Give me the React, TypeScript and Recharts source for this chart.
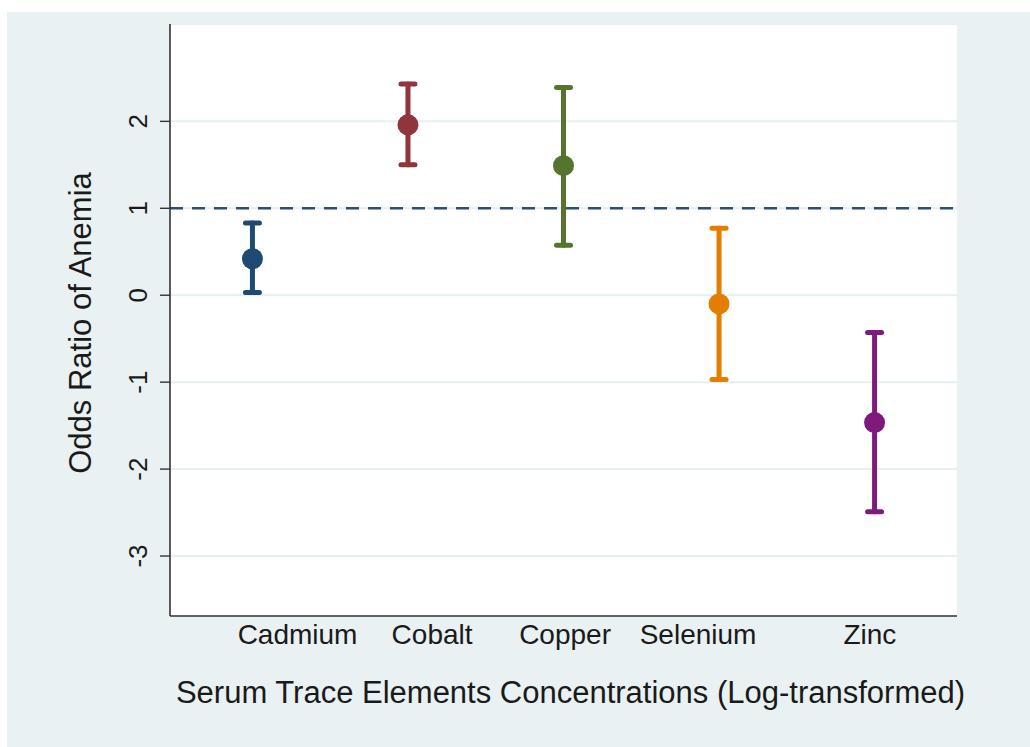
import React from "react";
import {
  ScatterChart,
  Scatter,
  XAxis,
  YAxis,
  CartesianGrid,
  ReferenceLine,
  ErrorBar,
  Label,
} from "recharts";

// ---- data ----
const elements = ["Cadmium", "Cobalt", "Copper", "Selenium", "Zinc"];
const oddsRatio = [0.42, 1.96, 1.49, -0.1, -1.465];
const lowerCI = [0.03, 1.5, 0.575, -0.97, -2.49];
const upperCI = [0.83, 2.43, 2.39, 0.77, -0.43];
const colors = ["#1f4a74", "#90353b", "#55752f", "#e37e00", "#7f1a7d"];
const xLabelPositions = [1.29, 2.155, 3.01, 3.865, 4.97];
const yTicks = [-3, -2, -1, 0, 1, 2];

const FONT = '"Liberation Sans", Arial, Helvetica, sans-serif';

const seriesData = elements.map((name, i) => [
  {
    x: i + 1,
    y: oddsRatio[i],
    err: [oddsRatio[i] - lowerCI[i], upperCI[i] - oddsRatio[i]],
    name,
  },
]);

const XTick = (props: any) => {
  const { x, y, index } = props;
  return (
    <text
      x={x}
      y={y + 28}
      textAnchor="middle"
      fontSize={28}
      fontFamily={FONT}
      fill="#1a1a1a"
    >
      {elements[index]}
    </text>
  );
};

const YTick = (props: any) => {
  const { x, y, payload } = props;
  const bx = x - 13;
  return (
    <text
      x={bx}
      y={y}
      transform={`rotate(-90, ${bx}, ${y})`}
      textAnchor="middle"
      fontSize={26}
      fontFamily={FONT}
      fill="#1a1a1a"
    >
      {payload.value}
    </text>
  );
};

const Dot = (color: string) => (props: any) => {
  const { cx, cy } = props;
  return <circle cx={cx} cy={cy} r={10.5} fill={color} />;
};

export default function App() {
  return (
    <div
      style={{
        position: "absolute",
        left: 0,
        top: 0,
        width: 1030,
        height: 747,
        background: "#ffffff",
      }}
    >
      <div
        style={{
          position: "absolute",
          left: 7,
          top: 12,
          width: 1023,
          height: 735,
          background: "#e9f1f2",
        }}
      />
      <div style={{ position: "absolute", left: 0, top: 0 }}>
        <ScatterChart
          width={1030}
          height={747}
          margin={{ top: 24, right: 73, bottom: 0, left: 0 }}
        >
          <CartesianGrid
            vertical={false}
            horizontal={true}
            stroke="#e6eff1"
            strokeWidth={2}
            fill="#ffffff"
            fillOpacity={1}
          />
          <XAxis
            type="number"
            dataKey="x"
            domain={[0.47, 5.53]}
            ticks={xLabelPositions}
            allowDataOverflow
            height={131}
            tickSize={0}
            tickMargin={0}
            tickLine={false}
            axisLine={{ stroke: "#333333", strokeWidth: 1.6 }}
            tick={<XTick />}
            interval={0}
          >
            <Label
              content={(p: any) => {
                const vb = p.viewBox || { x: 170, y: 616, width: 787 };
                return (
                  <text
                    x={vb.x + vb.width / 2 + 7}
                    y={vb.y + 87}
                    textAnchor="middle"
                    fontSize={31}
                    fontFamily={FONT}
                    fill="#1a1a1a"
                  >
                    Serum Trace Elements Concentrations (Log-transformed)
                  </text>
                );
              }}
            />
          </XAxis>
          <YAxis
            type="number"
            dataKey="y"
            domain={[-3.69, 3.12]}
            ticks={yTicks}
            allowDataOverflow
            width={170}
            tickSize={10}
            tickMargin={0}
            tickLine={{ stroke: "#333333", strokeWidth: 1.4 }}
            axisLine={{ stroke: "#333333", strokeWidth: 1.6 }}
            tick={<YTick />}
            interval={0}
          >
            <Label
              content={(p: any) => {
                const vb = p.viewBox || { x: 0, y: 24, width: 170, height: 592 };
                const cx = 91;
                const cy = vb.y + vb.height / 2 + 3;
                return (
                  <text
                    x={cx}
                    y={cy}
                    transform={`rotate(-90, ${cx}, ${cy})`}
                    textAnchor="middle"
                    fontSize={31}
                    fontFamily={FONT}
                    fill="#1a1a1a"
                  >
                    Odds Ratio of Anemia
                  </text>
                );
              }}
            />
          </YAxis>
          <ReferenceLine
            y={1}
            stroke="#2c4f76"
            strokeWidth={2.5}
            strokeDasharray="13 9"
          />
          {seriesData.map((d, i) => (
            <Scatter
              key={elements[i]}
              name={elements[i]}
              data={d}
              fill={colors[i]}
              shape={Dot(colors[i])}
              isAnimationActive={false}
            >
              <ErrorBar
                dataKey="err"
                direction="y"
                width={7}
                stroke={colors[i]}
                strokeWidth={5}
                strokeLinecap="round"
                isAnimationActive={false}
              />
            </Scatter>
          ))}
        </ScatterChart>
      </div>
    </div>
  );
}
